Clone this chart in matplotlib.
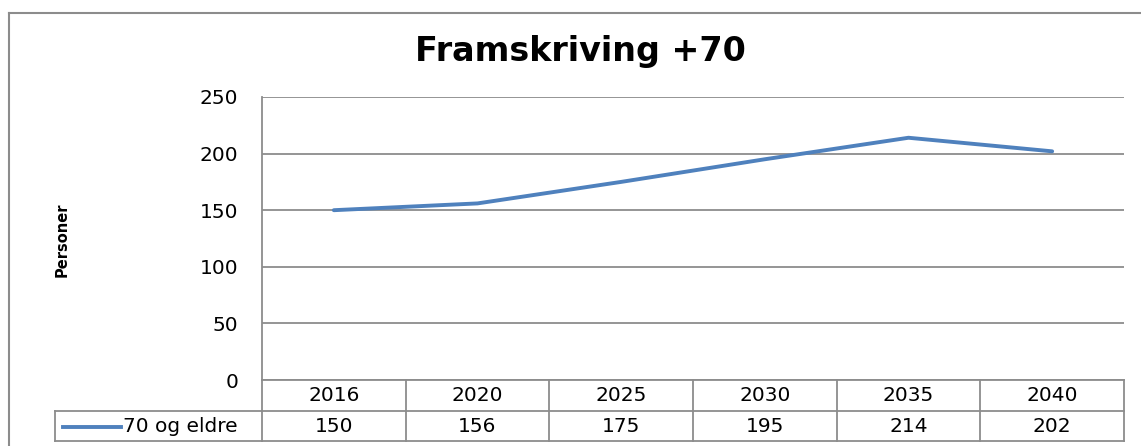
import matplotlib
matplotlib.use('Agg')
import matplotlib.pyplot as plt
import matplotlib.transforms as mtransforms
from matplotlib.lines import Line2D
import numpy as np

W, H = 1141, 446

years = ['2016', '2020', '2025', '2030', '2035', '2040']
persons_70 = [150, 156, 175, 195, 214, 202]
series_name = '70 og eldre'
title = 'Framskriving +70'
y_label = 'Personer'
y_ticks = [0, 50, 100, 150, 200, 250]

BLUE = '#4F81BD'
GRID = '#8C8C8C'
FS = 14.5


def fx(x):
    return x / W


def fy(y):
    return 1 - y / H


fig = plt.figure(figsize=(W / 100, H / 100), dpi=100)

# outer chart border (right/bottom edges fall outside the picture)
fig.add_artist(Line2D([fx(9), fx(9)], [fy(12.5), fy(446)], color=GRID, lw=1.5))
fig.add_artist(Line2D([fx(9), fx(1141)], [fy(12.5), fy(12.5)], color=GRID, lw=1.5))

ax = fig.add_axes([fx(262), fy(380), fx(1124) - fx(262), (380 - 97) / H])
x = np.arange(len(years))
ax.plot(x, persons_70, color=BLUE, lw=2.8, solid_capstyle='round', zorder=3)
ax.set_xlim(-0.5, len(years) - 0.5)
ax.set_ylim(0, 250)
ax.set_yticks(y_ticks)
ax.set_yticklabels([str(t) for t in y_ticks], fontsize=FS)
ax.tick_params(axis='y', length=0, pad=17)
ax.set_xticks([])
ax.grid(True, axis='y', color=GRID, lw=1.3)
ax.set_axisbelow(True)
for side in ['top', 'right', 'bottom']:
    ax.spines[side].set_visible(False)
ax.spines['left'].set_color(GRID)
ax.spines['left'].set_linewidth(1.3)

fig.text(fx(580), fy(52), title, ha='center', va='center',
         fontsize=24, fontweight='bold', family='DejaVu Sans')
fig.text(fx(62), fy(240), y_label, ha='center', va='center', rotation=90,
         fontsize=10.5, fontweight='bold', family='DejaVu Sans')

# data table under the axis
tr = mtransforms.blended_transform_factory(ax.transData, fig.transFigure)
row_top, row_mid, row_bot = fy(380), fy(411), fy(440.5)
kw = dict(color=GRID, lw=1.3, clip_on=False)
ax.add_line(Line2D([-0.5, len(years) - 0.5], [row_top, row_top], transform=tr, **kw))
ax.add_line(Line2D([-0.5, len(years) - 0.5], [row_mid, row_mid], transform=tr, **kw))
ax.add_line(Line2D([-0.5, len(years) - 0.5], [row_bot, row_bot], transform=tr, **kw))
for k in range(len(years) + 1):
    ax.add_line(Line2D([k - 0.5, k - 0.5], [row_top, row_bot], transform=tr, **kw))
for i, (yr, v) in enumerate(zip(years, persons_70)):
    ax.text(i, fy(395.5), yr, transform=tr, ha='center', va='center', fontsize=FS)
    ax.text(i, fy(426), str(v), transform=tr, ha='center', va='center', fontsize=FS)

# legend cell of the table
fig.add_artist(Line2D([fx(55), fx(262)], [row_mid, row_mid], color=GRID, lw=1.3))
fig.add_artist(Line2D([fx(55), fx(262)], [row_bot, row_bot], color=GRID, lw=1.3))
fig.add_artist(Line2D([fx(55), fx(55)], [row_mid, row_bot], color=GRID, lw=1.3))
fig.add_artist(Line2D([fx(63), fx(121)], [fy(427), fy(427)], color=BLUE, lw=2.8))
fig.text(fx(123), fy(426), series_name, ha='left', va='center', fontsize=FS)

fig.savefig('out.png', dpi=100)
